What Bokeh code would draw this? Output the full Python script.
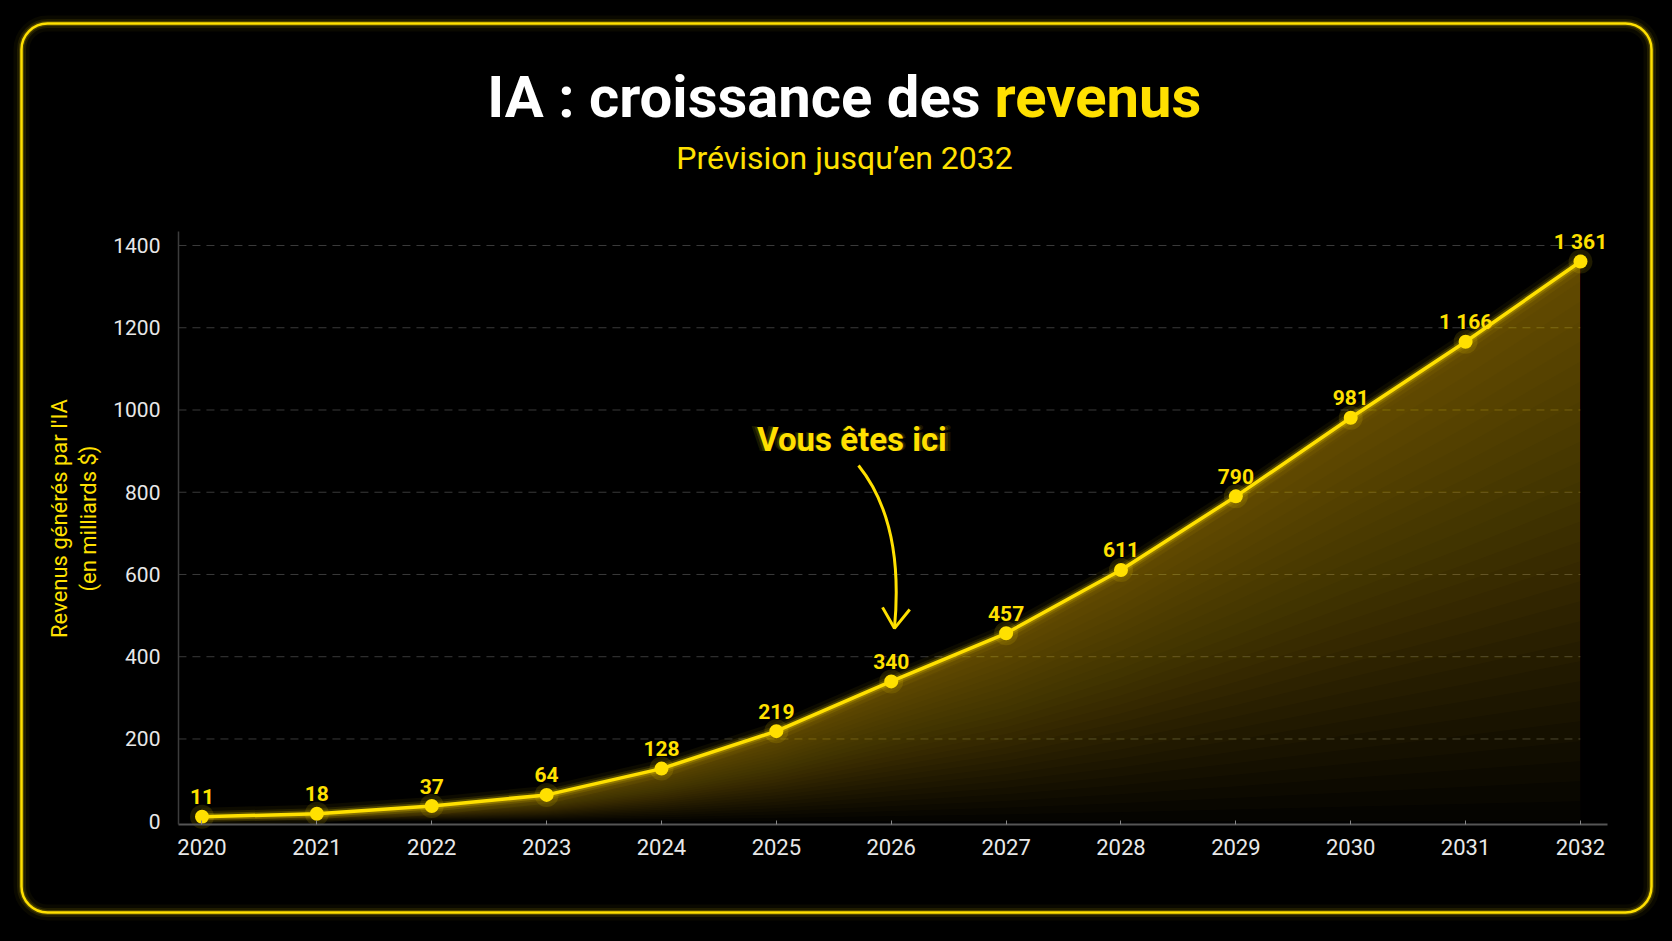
import math
from bokeh.plotting import figure
from bokeh.models import Label, BoxAnnotation, Range1d, FixedTicker
from bokeh.core.properties import value
from bokeh.embed import file_html
from bokeh.resources import INLINE

# ---------------- data ----------------
years = [2020, 2021, 2022, 2023, 2024, 2025, 2026, 2027, 2028, 2029, 2030, 2031, 2032]
revenue = [11, 18, 37, 64, 128, 219, 340, 457, 611, 790, 981, 1166, 1361]
point_labels = [f"{v:,}".replace(",", " ") for v in revenue]
y_ticks = [0, 200, 400, 600, 800, 1000, 1200, 1400]
grid_ticks = [200, 400, 600, 800, 1000, 1200, 1400]
title_main = "IA : croissance des"
title_accent = "revenus"
subtitle = "Prévision jusqu’en 2032"
y_label_lines = ["Revenus générés par l'IA", "(en milliards $)"]
annotation_text = "Vous êtes ici"
here_index = 6  # 2026

# ---------------- layout / style ----------------
YEL = "#FFE000"
FONT = "Roboto"
W, H = 1672, 941
# axis extents (data units)
X_AX = (2019.795, 2032.235)
Y_AX = (-8, 1434)
# full-canvas ranges so that the frame covers the whole page
X_RANGE = (2018.2459, 2032.8011)
Y_RANGE = (-292.5, 1995.8)

p = figure(width=W, height=H,
           x_range=Range1d(*X_RANGE), y_range=Range1d(*Y_RANGE),
           output_backend="svg", toolbar_location=None,
           min_border=0, min_border_left=0, min_border_right=0,
           min_border_top=0, min_border_bottom=0,
           background_fill_color="#000000", border_fill_color="#000000",
           outline_line_color=None)
p.title.visible = False
p.xgrid.visible = False
p.ygrid.visible = False

# dashed horizontal grid lines, from the y axis to the last year
p.segment(x0=[X_AX[0]] * len(grid_ticks), x1=[years[-1]] * len(grid_ticks),
          y0=grid_ticks, y1=grid_ticks,
          line_color="#3a3a3a", line_width=1, line_dash="8 6")

# axes drawn at fixed locations inside the canvas
p.xaxis.fixed_location = Y_AX[0]
p.xaxis.bounds = X_AX
p.xaxis.ticker = FixedTicker(ticks=years)
p.xaxis.major_label_text_font = FONT
p.xaxis.major_label_text_font_size = "22px"
p.xaxis.major_label_text_color = "#e8e8e8"
p.xaxis.axis_line_color = "#555555"
p.xaxis.axis_line_width = 2
p.xaxis.major_tick_in = 4
p.xaxis.major_tick_out = 0
p.xaxis.major_tick_line_color = "#888888"
p.xaxis.minor_tick_line_color = None
p.xaxis.major_label_standoff = 14

p.yaxis.fixed_location = X_AX[0]
p.yaxis.bounds = Y_AX
p.yaxis.ticker = FixedTicker(ticks=y_ticks)
p.yaxis.major_label_text_font = FONT
p.yaxis.major_label_text_font_size = "21px"
p.yaxis.major_label_text_color = "#e8e8e8"
p.yaxis.axis_line_color = "#3c3c3c"
p.yaxis.axis_line_width = 1.5
p.yaxis.major_tick_in = 0
p.yaxis.major_tick_out = 0
p.yaxis.minor_tick_line_color = None
p.yaxis.major_label_standoff = 18

# y-axis title (two rotated lines)
for txt, cx in zip(y_label_lines, [59, 88]):
    p.add_layout(Label(x=cx, y=518, x_units="canvas", y_units="canvas",
                       text=txt, angle=math.pi / 2, text_align="center",
                       text_baseline="middle", text_font=FONT,
                       text_font_size="22px", text_color=YEL))

# gradient-like area under the curve (stacked translucent bands)
N = 28
for k in range(N):
    frac = k / N
    lower = [v * frac for v in revenue]
    p.varea(x=years, y1=lower, y2=revenue, fill_color=YEL, fill_alpha=0.021)

# glowing line
for w, a in [(18, 0.05), (11, 0.10), (7, 0.22)]:
    p.line(years, revenue, line_color=YEL, line_width=w, line_alpha=a)
p.line(years, revenue, line_color=YEL, line_width=3.5)

# points
p.scatter(years, revenue, size=24, fill_color=YEL, fill_alpha=0.12, line_color=None)
p.scatter(years, revenue, size=14, fill_color=YEL, line_color=None)

# value labels
p.text(x=years, y=revenue, text=point_labels, text_align="center",
       text_baseline="alphabetic", y_offset=-20,
       text_font=value(FONT), text_font_style="bold", text_font_size="21px",
       text_color=YEL)

# "you are here" annotation + curved arrow (relative to the 2026 point)
hx, hy = years[here_index], revenue[here_index]
p.quadratic(x0=[hx - 0.285], y0=[hy + 525], x1=[hx + 0.028], y1=[hy + 129],
            cx=[hx + 0.115], cy=[hy + 386], line_color=YEL, line_width=3)
p.line(x=[hx - 0.076, hx + 0.028, hx + 0.161], y=[hy + 180, hy + 129, hy + 175],
       line_color=YEL, line_width=3)
for a, fs in [(0.10, "35px"), (0.15, "34px")]:
    p.add_layout(Label(x=hx - 0.342, y=hy + 589, text=annotation_text,
                       text_align="center", text_baseline="middle",
                       text_font=FONT, text_font_size=fs, text_font_style="bold",
                       text_color=YEL, text_alpha=a))
p.add_layout(Label(x=hx - 0.342, y=hy + 589, text=annotation_text,
                   text_align="center", text_baseline="middle",
                   text_font=FONT, text_font_size="33px", text_font_style="bold",
                   text_color=YEL))

# title & subtitle (canvas pixel units)
p.add_layout(Label(x=980, y=96, x_units="canvas", y_units="canvas",
                   text=title_main, text_align="right", text_baseline="middle",
                   text_font=FONT, text_font_size="58px", text_font_style="bold",
                   text_color="#ffffff"))
p.add_layout(Label(x=994, y=96, x_units="canvas", y_units="canvas",
                   text=title_accent, text_align="left", text_baseline="middle",
                   text_font=FONT, text_font_size="58px", text_font_style="bold",
                   text_color=YEL))
p.add_layout(Label(x=844, y=157, x_units="canvas", y_units="canvas",
                   text=subtitle, text_align="center", text_baseline="middle",
                   text_font=FONT, text_font_size="32px", text_font_style="normal",
                   text_color=YEL))

# rounded glowing frame
for lw, la in [(16, 0.04), (9, 0.09), (5, 0.2), (2.5, 1.0)]:
    p.add_layout(BoxAnnotation(left=21, right=1651, top=23, bottom=912,
                               left_units="canvas", right_units="canvas",
                               top_units="canvas", bottom_units="canvas",
                               fill_color=None, line_color=YEL, line_width=lw,
                               line_alpha=la, border_radius=26))

html = file_html(p, INLINE)
html = html.replace("<body>", '<body style="margin:0;background:#000;">')
open("out.html", "w").write(html)
